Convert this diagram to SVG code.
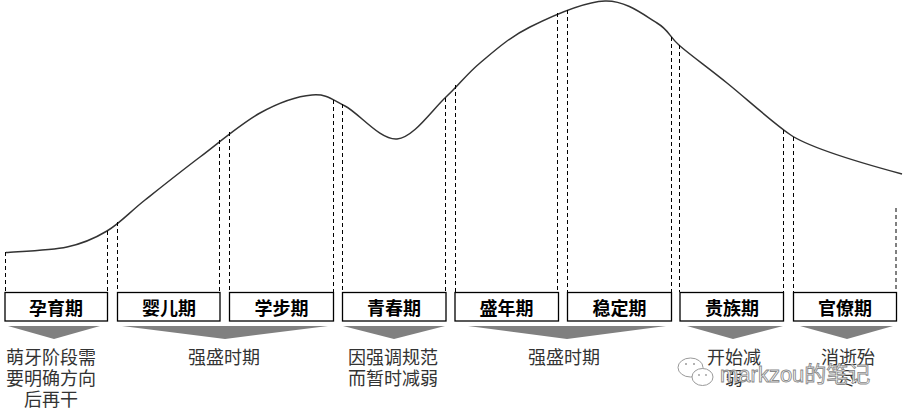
<svg xmlns="http://www.w3.org/2000/svg" width="904" height="414" viewBox="0 0 904 414">
<defs>
<style>
.bg{fill:#fff}
.box{fill:#fff;stroke:#000;stroke-width:1.3}
.lbl{font-family:"Noto Sans CJK SC","Noto Sans CJK JP",sans-serif;font-size:18px;font-weight:bold;fill:#000;text-anchor:middle}
.note{font-family:"Noto Sans CJK SC","Noto Sans CJK JP",sans-serif;font-size:18px;fill:#333;text-anchor:middle}
.dash{stroke:#000;stroke-width:1;stroke-dasharray:4 3;fill:none}
.curve{stroke:#333;stroke-width:1.5;fill:none}
.tri{fill:#808080}
.wm{font-family:"Liberation Sans","Noto Sans CJK SC",sans-serif;font-size:22px;fill:#fff;stroke:#8a8a8a;stroke-width:0.9}
.wmi{fill:#fff;stroke:#9a9a9a;stroke-width:1}
</style>
</defs>
<rect class="bg" x="0" y="0" width="904" height="414"/>

<g id="curve">
<path class="curve" d="M6,252.5 C16.2,251.6 50.2,250.6 67,247 C83.8,243.4 94,238.8 107,231 C120,223.2 129.5,212.3 145,200 C160.5,187.7 180.8,171.5 200,157 C219.2,142.5 241.3,123.3 260,113 C278.7,102.7 297.8,96.2 312,95 C326.2,93.8 330.8,98.7 345,106 C359.2,113.3 380.2,140.5 397,139 C413.8,137.5 432.2,109.7 446,97 C459.8,84.3 466,74.7 480,63 C494,51.3 509.2,37.3 530,27 C550.8,16.7 583.8,1.7 605,1 C626.2,0.3 644.5,15.5 657,23 C669.5,30.5 668.3,36 680,46 C691.7,56 708.2,67.8 727,83 C745.8,98.2 772,122 790,134.5 C808,147 850,160 902,174"/>
</g>

<g id="connectors">
<line class="dash" x1="5.5" y1="252" x2="5.5" y2="292"/>
<line class="dash" x1="107.5" y1="231" x2="107.5" y2="292"/>
<line class="dash" x1="117.5" y1="222" x2="117.5" y2="292"/>
<line class="dash" x1="219.5" y1="140" x2="219.5" y2="292"/>
<line class="dash" x1="229.5" y1="132" x2="229.5" y2="292"/>
<line class="dash" x1="333.5" y1="100" x2="333.5" y2="292"/>
<line class="dash" x1="342.5" y1="104" x2="342.5" y2="292"/>
<line class="dash" x1="445.5" y1="98" x2="445.5" y2="292"/>
<line class="dash" x1="455.5" y1="85" x2="455.5" y2="292"/>
<line class="dash" x1="557.5" y1="13" x2="557.5" y2="292"/>
<line class="dash" x1="567.5" y1="10" x2="567.5" y2="292"/>
<line class="dash" x1="671.5" y1="37" x2="671.5" y2="292"/>
<line class="dash" x1="679.5" y1="45" x2="679.5" y2="292"/>
<line class="dash" x1="783.5" y1="130" x2="783.5" y2="292"/>
<line class="dash" x1="793.5" y1="137" x2="793.5" y2="292"/>
<line class="dash" x1="896" y1="208" x2="896" y2="292"/>
</g>

<g id="n-yunyu"><rect class="box" x="5" y="292.5" width="102.5" height="28.5"/><text class="lbl" x="56" y="315">孕育期</text></g>
<g id="n-yinger"><rect class="box" x="117.5" y="292.5" width="102.5" height="28.5"/><text class="lbl" x="169" y="315">婴儿期</text></g>
<g id="n-xuebu"><rect class="box" x="229.5" y="292.5" width="104" height="28.5"/><text class="lbl" x="281.5" y="315">学步期</text></g>
<g id="n-qingchun"><rect class="box" x="342.5" y="292.5" width="103.5" height="28.5"/><text class="lbl" x="394" y="315">青春期</text></g>
<g id="n-shengnian"><rect class="box" x="455" y="292.5" width="103.5" height="28.5"/><text class="lbl" x="506.5" y="315">盛年期</text></g>
<g id="n-wending"><rect class="box" x="567.5" y="292.5" width="104" height="28.5"/><text class="lbl" x="619.5" y="315">稳定期</text></g>
<g id="n-guizu"><rect class="box" x="680" y="292.5" width="103.5" height="28.5"/><text class="lbl" x="732" y="315">贵族期</text></g>
<g id="n-guanliao"><rect class="box" x="793.5" y="292.5" width="103" height="28.5"/><text class="lbl" x="845" y="315">官僚期</text></g>

<g id="arrows">
<polygon class="tri" points="8,326 100,326 54,339"/>
<polygon class="tri" points="122,326 328,326 225,339"/>
<polygon class="tri" points="343,326 445,326 394,339"/>
<polygon class="tri" points="468,326 666,326 567,339"/>
<polygon class="tri" points="687,326 783,326 733,339"/>
<polygon class="tri" points="800,326 893,326 847,339"/>
</g>

<g id="notes">
<text class="note" x="51" y="363.5">萌牙阶段需</text>
<text class="note" x="51" y="384.5">要明确方向</text>
<text class="note" x="51" y="405.5">后再干</text>
<text class="note" x="224" y="363.5">强盛时期</text>
<text class="note" x="393" y="363.5">因强调规范</text>
<text class="note" x="393" y="384.5">而暂时减弱</text>
<text class="note" x="564" y="363.5">强盛时期</text>
<text class="note" x="734" y="363.5">开始减</text>
<text class="note" x="734" y="384.5">弱</text>
<text class="note" x="848" y="363.5">消逝殆</text>
<text class="note" x="848" y="384.5">尽</text>
</g>

<g id="watermark">
<ellipse class="wmi" cx="690.5" cy="367.5" rx="12.5" ry="9.5"/>
<ellipse class="wmi" cx="702.5" cy="377" rx="10.5" ry="8.5"/>
<circle cx="686" cy="364" r="1" fill="#9a9a9a"/>
<circle cx="694" cy="364" r="1" fill="#9a9a9a"/>
<circle cx="699" cy="375" r="0.9" fill="#9a9a9a"/>
<circle cx="706" cy="375" r="0.9" fill="#9a9a9a"/>
<text class="wm" x="720" y="382">markzou的笔记</text>
</g>
</svg>
